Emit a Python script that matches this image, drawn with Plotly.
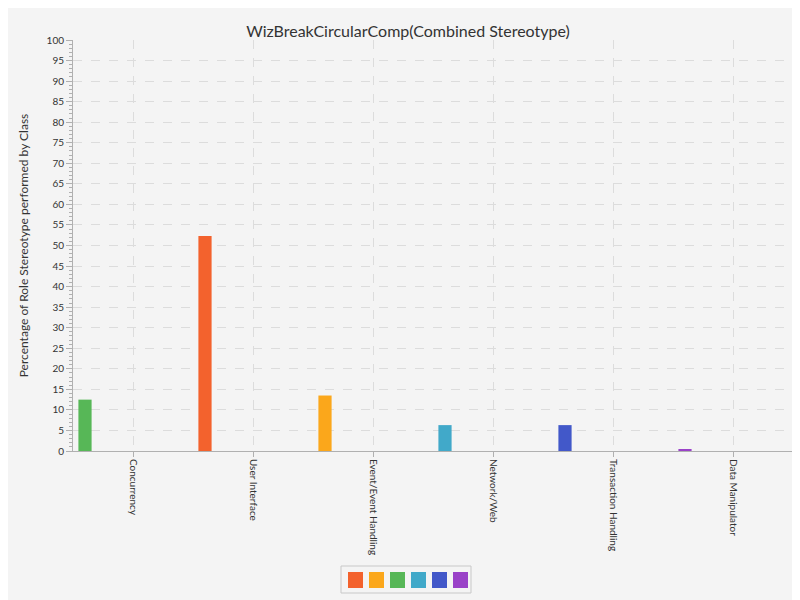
import plotly.graph_objects as go

categories = ["Concurrency", "User Interface", "Event/Event Handling", "Network/Web", "Transaction Handling", "Data Manipulator"]
values = [12.5, 52.3, 13.5, 6.3, 6.3, 0.3]
bar_colors = ["#57b757", "#f3622d", "#fba71b", "#41a9c9", "#4258c9", "#9a42c8"]
legend_colors = ["#f3622d", "#fba71b", "#57b757", "#41a9c9", "#4258c9", "#9a42c8"]

fig = go.Figure()
fig.add_trace(go.Bar(x=categories, y=values, marker_color=bar_colors, marker_line_width=0,
                     width=0.11, offset=-0.455, showlegend=False))

# legend drawn as a box with colour swatches (paper coords)
W, H = 800, 600
shapes = [dict(type="rect", xref="paper", yref="paper",
               x0=(333 - 65) / 720, x1=(463 - 65) / 720,
               y0=-(593 - 451) / 411, y1=-(566 - 451) / 411,
               line=dict(color="#c8c8c8", width=1), fillcolor="#f4f4f4")]
for i, c in enumerate(legend_colors):
    x0 = 340 + i * 21
    shapes.append(dict(type="rect", xref="paper", yref="paper",
                       x0=(x0 - 65) / 720, x1=(x0 + 15 - 65) / 720,
                       y0=-(588 - 451) / 411, y1=-(572 - 451) / 411,
                       line=dict(width=0), fillcolor=c))

fig.update_layout(
    width=W, height=H, showlegend=False, shapes=shapes,
    paper_bgcolor="#f4f4f4", plot_bgcolor="#f4f4f4",
    font=dict(family="Lato, Open Sans, sans-serif", size=11, color="#333"),
    title=dict(text="WizBreakCircularComp(Combined Stereotype)", x=0.5, y=0.97, xanchor="center",
               font=dict(size=16, color="#333")),
    margin=dict(l=65, r=15, t=32, b=157),
    xaxis=dict(type="category", tickangle=90, showgrid=True, gridcolor="#dcdcdc", griddash="dash",
               showline=True, linecolor="#b0b0b0", ticks="outside", ticklen=5, tickcolor="#b0b0b0",
               tickfont=dict(size=10, color="#333"), automargin=False),
    yaxis=dict(range=[0, 100], dtick=5, showgrid=True, gridcolor="#dcdcdc", griddash="dash",
               showline=True, linecolor="#b0b0b0", ticks="outside", ticklen=6, tickcolor="#b0b0b0",
               minor=dict(dtick=1, ticks="outside", ticklen=3, tickcolor="#b0b0b0", showgrid=False),
               zeroline=False, tickfont=dict(size=10, color="#333"), automargin=False,
               title=dict(text="Percentage of Role Stereotype performed by Class", font=dict(size=12, color="#333"))),
)
fig.write_html("out.html")
